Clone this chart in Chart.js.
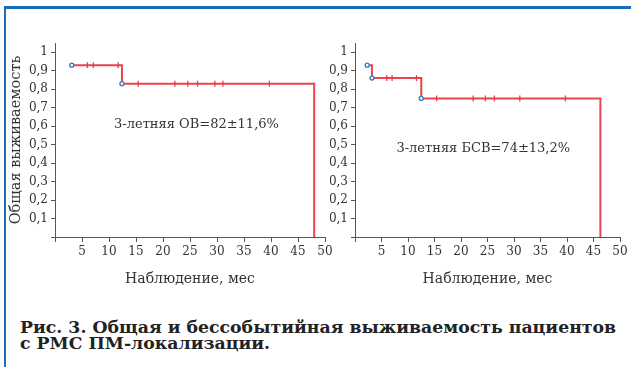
<!DOCTYPE html>
<html>
<head>
<meta charset="utf-8">
<script src="https://cdn.jsdelivr.net/npm/chart.js@4/dist/chart.umd.min.js"></script>
<style>
  html, body { margin: 0; padding: 0; background: #fff; }
  body { width: 631px; height: 367px; position: relative; overflow: hidden; }
  .frame {
    position: absolute; left: 4px; top: 6px; width: 640px; height: 359px;
    border-left: 2px solid #1a6db4; border-top: 3px solid #1a6db4; border-bottom: 2px solid #3a8fd0;
  }
  .box { position: absolute; }
  #left { left: 0; top: 30px; width: 336px; height: 262px; }
  #right { left: 330px; top: 30px; width: 301px; height: 262px; }
  .caption {
    position: absolute; left: 20px; top: 319px; width: 611px;
    font-family: "DejaVu Serif", serif; font-weight: bold; font-size: 17.3px;
    line-height: 16px; color: #222; white-space: nowrap;
  }
</style>
</head>
<body>
<div class="frame"></div>
<div class="box" id="left"><canvas id="chartOS"></canvas></div>
<div class="box" id="right"><canvas id="chartEFS"></canvas></div>
<div class="caption">Рис. 3. Общая и бессобытийная выживаемость пациентов<br>с РМС ПМ-локализации.</div>

<script>
// Общая выживаемость (ОВ)
const osTimes = [3.1, 12.4, 48];
const osSurv = [0.93, 0.83, 0.83];
const osEvents = [3.1, 12.4];
const osCensored = [6.0, 7.1, 11.7, 15.4, 22.2, 24.6, 26.4, 29.6, 31.1, 39.7];
const osLabel = '3-летняя ОВ=82±11,6%';

// Бессобытийная выживаемость (БСВ)
const efsTimes = [2.3, 3.2, 12.5, 46.3];
const efsSurv = [0.93, 0.86, 0.75, 0.75];
const efsEvents = [2.3, 3.2, 12.5];
const efsCensored = [6.0, 7.0, 11.6, 15.4, 22.3, 24.6, 26.3, 31.1, 39.7];
const efsLabel = '3-летняя БСВ=74±13,2%';

const xTicks = [0, 5, 10, 15, 20, 25, 30, 35, 40, 45, 50];
const yTicks = [0, 0.1, 0.2, 0.3, 0.4, 0.5, 0.6, 0.7, 0.8, 0.9, 1];

const RED = 'rgba(232, 48, 60, 0.9)';
const BLUE = '#2a7cc0';
const AXIS = '#555';
const FONT = '"DejaVu Serif", serif';

// survival level at time t (step function)
function levelAt(times, surv, t) {
    let y = surv[0];
    times.forEach((tt, i) => { if (tt <= t) y = surv[i]; });
    return y;
}

// text annotation plugin
const notePlugin = {
    id: 'note',
    afterDatasetsDraw(chart, args, opts) {
        const ctx = chart.ctx;
        const x = chart.scales.x.getPixelForValue(opts.x);
        const y = chart.scales.y.getPixelForValue(opts.y);
        ctx.save();
        ctx.font = '13px ' + FONT;
        ctx.fillStyle = '#333';
        ctx.textAlign = 'center';
        ctx.textBaseline = 'middle';
        ctx.fillText(opts.text, x, y);
        ctx.restore();
    }
};

function makeChart(id, times, surv, events, censored, note, yTitle, yWidth) {
    const curve = times.map((t, i) => ({ x: t, y: surv[i] }));
    curve.push({ x: times[times.length - 1], y: 0 });
    const ctx = document.getElementById(id).getContext('2d');
    return new Chart(ctx, {
        type: 'scatter',
        data: {
            datasets: [
                {
                    type: 'line',
                    data: curve,
                    stepped: true,
                    borderColor: RED,
                    borderWidth: 2,
                    pointRadius: 0,
                    fill: false,
                    order: 3
                },
                {
                    data: censored.map(t => ({ x: t, y: levelAt(times, surv, t) })),
                    pointStyle: 'line',
                    rotation: 90,
                    pointRadius: 3,
                    borderColor: RED,
                    borderWidth: 1.3,
                    order: 2
                },
                {
                    data: events.map(t => ({ x: t, y: levelAt(times, surv, t) })),
                    pointStyle: 'circle',
                    pointRadius: 2,
                    borderColor: BLUE,
                    backgroundColor: '#fff',
                    borderWidth: 1.3,
                    order: 1
                }
            ]
        },
        options: {
            responsive: true,
            maintainAspectRatio: false,
            animation: false,
            events: [],
            layout: { padding: { top: 13, right: 11, left: 0, bottom: 0 } },
            plugins: {
                legend: { display: false },
                tooltip: { enabled: false },
                note: note
            },
            scales: {
                x: {
                    type: 'linear',
                    min: 0,
                    max: 50,
                    afterBuildTicks: s => { s.ticks = xTicks.map(v => ({ value: v })); },
                    afterFit: s => { s.height = 55; },
                    grid: { display: true, drawOnChartArea: false, tickLength: 5, color: AXIS },
                    border: { color: AXIS, width: 1 },
                    ticks: {
                        color: '#333',
                        font: { family: FONT, size: 12 },
                        padding: 3,
                        maxRotation: 0,
                        callback: v => v === 0 ? '' : String(v)
                    },
                    title: {
                        display: true,
                        text: 'Наблюдение, мес',
                        color: '#333',
                        font: { family: FONT, size: 14 },
                        padding: { top: 8 }
                    }
                },
                y: {
                    type: 'linear',
                    min: 0,
                    max: 1.05,
                    afterBuildTicks: s => { s.ticks = yTicks.map(v => ({ value: v })); },
                    afterFit: s => { s.width = yWidth; },
                    grid: { display: true, drawOnChartArea: false, tickLength: 4, color: AXIS },
                    border: { color: AXIS, width: 1 },
                    ticks: {
                        color: '#333',
                        font: { family: FONT, size: 12 },
                        padding: 3,
                        callback: v => v === 0 ? '' : String(v).replace('.', ',')
                    },
                    title: {
                        display: !!yTitle,
                        text: yTitle,
                        color: '#333',
                        font: { family: FONT, size: 14.5 },
                        padding: { top: 8, bottom: 0 }
                    }
                }
            }
        },
        plugins: [notePlugin]
    });
}

makeChart('chartOS', osTimes, osSurv, osEvents, osCensored,
    { text: osLabel, x: 26.2, y: 0.61 }, 'Общая выживаемость', 55);
makeChart('chartEFS', efsTimes, efsSurv, efsEvents, efsCensored,
    { text: efsLabel, x: 24.2, y: 0.48 }, '', 25);
</script>
</body>
</html>
